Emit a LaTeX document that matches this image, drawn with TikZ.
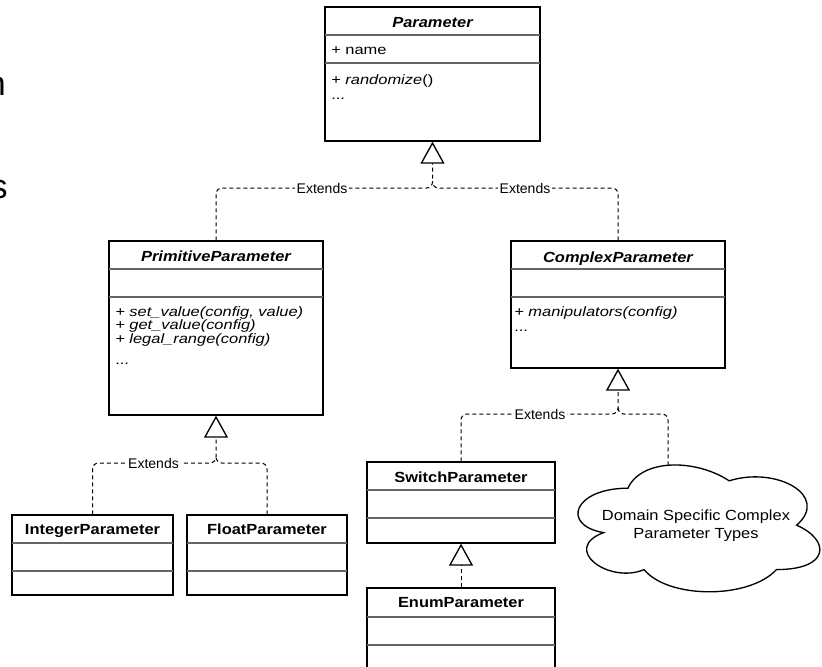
\documentclass[tikz,border=0pt]{standalone}
\usepackage{fontspec}
\setmainfont{Liberation Sans}
\newfontfamily\umlf[FakeStretch=1.12]{Liberation Sans}
\newfontfamily\umlm[FakeStretch=1.21]{Liberation Sans}
\usetikzlibrary{arrows.meta,fit,calc}
\begin{document}
\begin{tikzpicture}[x=0.75pt,y=-0.75pt,
  classbox/.style={draw=black, line width=1pt, fill=white, inner sep=0pt},
  sepline/.style={draw=black!60, line width=0.8pt},
  title/.style={font=\umlf\fontsize{11}{13}\selectfont\bfseries, inner sep=0pt, anchor=base},
  member/.style={font=\umlm\fontsize{10.2}{12}\selectfont, inner sep=0pt, anchor=base west},
  ext/.style={draw=black, line width=0.75pt, dash pattern=on 3pt off 2.25pt, rounded corners=4.5pt},
  gen/.style={ext, -{Triangle[open,length=16.5pt,width=18pt,line width=1pt]}},
  extlabel/.style={fill=white, font=\fontsize{10.5}{12}\selectfont, inner sep=1.5pt},
  cloudtxt/.style={font=\umlf\fontsize{11}{13}\selectfont, inner sep=0pt, anchor=base},
  cut/.style={font=\fontsize{25.5}{30}\selectfont, inner sep=0pt, anchor=base east}]
\clip (0,0) rectangle (822,667);
\useasboundingbox (0,0) rectangle (822,667);

% cut-off text at left edge
\node[cut] (cutn) at (6,96) {n};
\node[cut] (cuts) at (8,199) {s};

% ---- class boxes ----
\node[classbox, fit={(325,7) (540,141)}] (param) {};
\draw[sepline] (325,35) -- (540,35);
\draw[sepline] (325,63) -- (540,63);
\node[title] (paramT) at (432.5,27.5) {\itshape Parameter};
\node[member] (paramA) at (331,54.5) {+ name};
\node[member] (paramM) at (331,85) {+ \textit{randomize}()};
\node[member] (paramD) at (331,100) {...};

\node[classbox, fit={(109,241) (323,415)}] (prim) {};
\draw[sepline] (109,269) -- (323,269);
\draw[sepline] (109,297) -- (323,297);
\node[title] (primT) at (216,261) {\itshape PrimitiveParameter};
\node[member] (primM1) at (115,316) {\itshape + set\_value(config, value)};
\node[member] (primM2) at (115,329.5) {\itshape + get\_value(config)};
\node[member] (primM3) at (115,343) {\itshape + legal\_range(config)};
\node[member] (primD) at (115,364) {...};

\node[classbox, fit={(511,241) (725,368)}] (complex) {};
\draw[sepline] (511,269) -- (725,269);
\draw[sepline] (511,297) -- (725,297);
\node[title] (complexT) at (618,262) {\itshape ComplexParameter};
\node[member] (complexM) at (514,316) {\itshape + manipulators(config)};
\node[member] (complexD) at (514,331) {...};

\node[classbox, fit={(12,515) (173,595)}] (integer) {};
\draw[sepline] (12,543) -- (173,543);
\draw[sepline] (12,571) -- (173,571);
\node[title] (integerT) at (92.5,534) {IntegerParameter};

\node[classbox, fit={(187,515) (347,595)}] (float) {};
\draw[sepline] (187,543) -- (347,543);
\draw[sepline] (187,571) -- (347,571);
\node[title] (floatT) at (267,534) {FloatParameter};

\node[classbox, fit={(367,462) (555,543)}] (switch) {};
\draw[sepline] (367,490) -- (555,490);
\draw[sepline] (367,518) -- (555,518);
\node[title] (switchT) at (461,482) {SwitchParameter};

\node[classbox, fit={(367,588) (555,673)}] (enum) {};
\draw[sepline] (367,617) -- (555,617);
\draw[sepline] (367,645) -- (555,645);
\node[title] (enumT) at (461,607) {EnumParameter};

% ---- cloud ----
\begin{scope}[shift={(560.4,451.2)}]
\draw[line width=1pt, fill=white] (67.5,37)
  .. controls (13.5,37) and (0,74) .. (43.2,81.4)
  .. controls (0,97.68) and (48.6,133.2) .. (83.7,118.4)
  .. controls (108,148) and (189,148) .. (216,118.4)
  .. controls (270,118.4) and (270,88.8) .. (236.25,74)
  .. controls (270,44.4) and (216,14.8) .. (168.75,29.6)
  .. controls (135,7.4) and (81,7.4) .. (67.5,37) -- cycle;
\end{scope}
\coordinate (cloudtop) at (668,465.3);
\node[cloudtxt] (cloudA) at (696,520) {Domain Specific Complex};
\node[cloudtxt] (cloudB) at (696,538) {Parameter Types};

% ---- generalisation connectors ----
\coordinate (s1) at (432.5,188);
\draw[gen] (prim.north) |- (s1) -- (param.south);
\draw[ext] (complex.north) |- (s1) -- ++(0,-7);
\node[extlabel] (l1) at (322,188) {Extends};
\node[extlabel] (l2) at (525,188) {Extends};

\coordinate (s2) at (216,463);
\draw[gen] (integer.north) |- (s2) -- (prim.south);
\draw[ext] (float.north) |- (s2) -- ++(0,-7);
\node[extlabel] (l3) at (153.5,463) {Extends};

\coordinate (s3) at (618,414);
\draw[gen] (switch.north) |- (s3) -- (complex.south);
\draw[ext] (cloudtop) |- (s3) -- ++(0,-7);
\node[extlabel] (l4) at (540,414) {Extends};

\draw[gen] (enum.north) -- (switch.south);
\end{tikzpicture}
\end{document}
